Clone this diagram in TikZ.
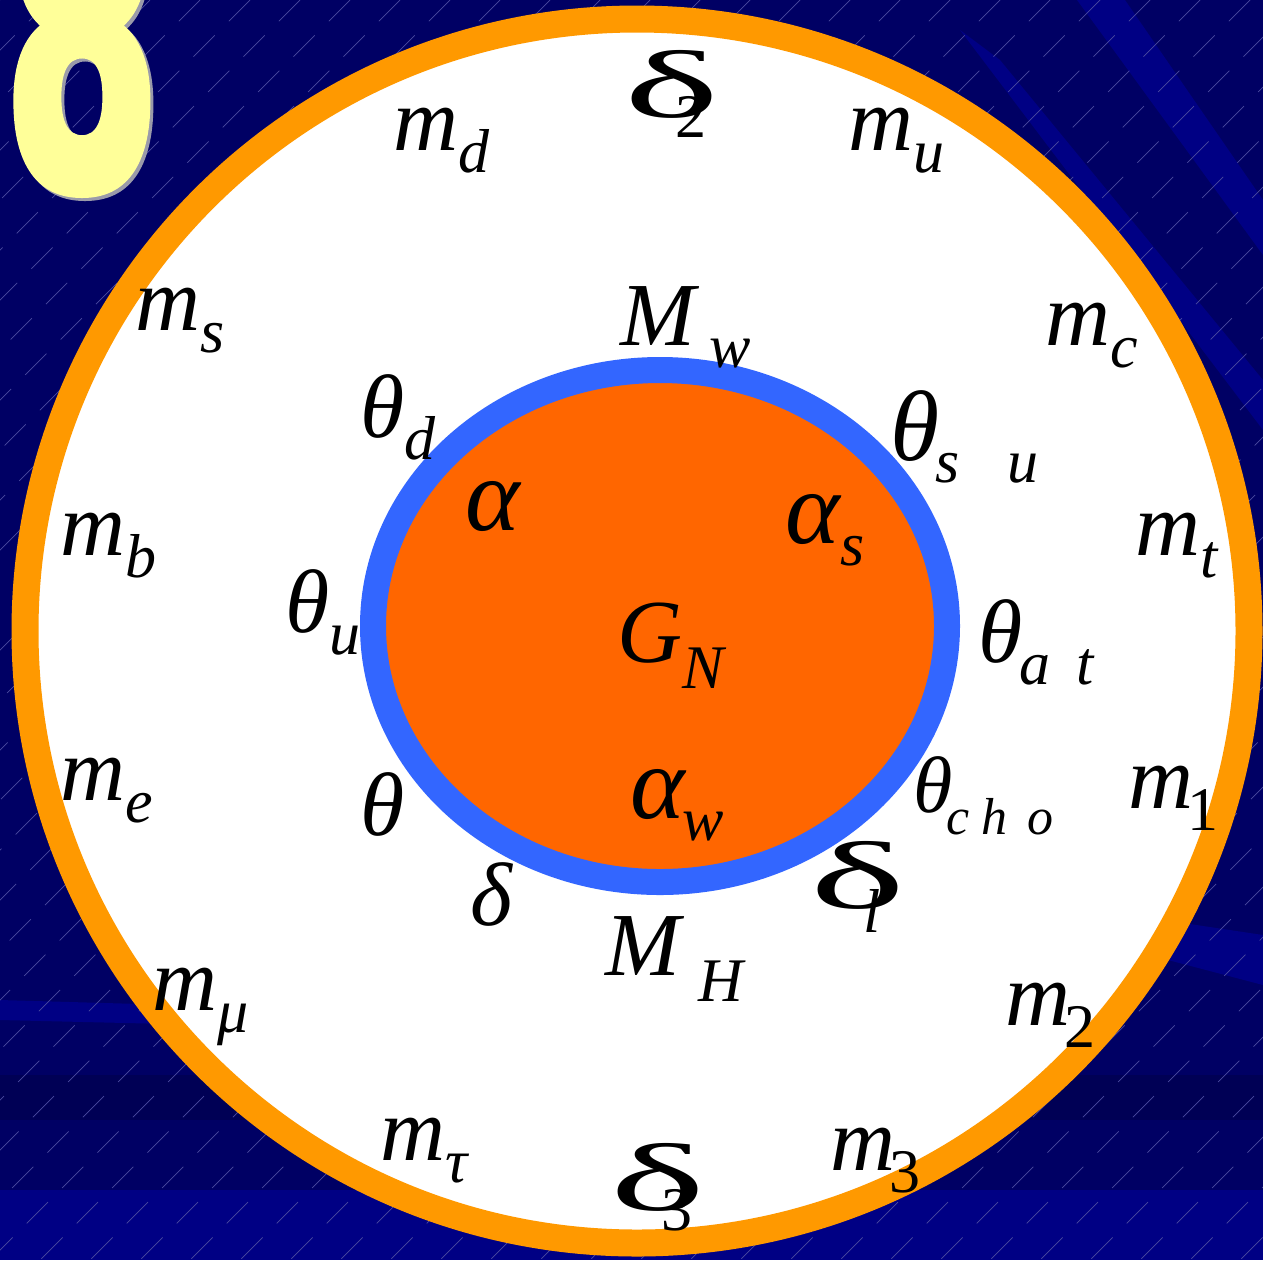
\documentclass[tikz,border=0pt]{standalone}
\usepackage{fontspec}
\setmainfont{Liberation Serif}
\newfontfamily\digitfont{DejaVu Sans}[BoldFeatures={FakeBold=3.5}]
\definecolor{navy}{HTML}{000064}
\definecolor{bandlight}{HTML}{000084}
\definecolor{banddark}{HTML}{000055}
\definecolor{hatch}{HTML}{4A4AA0}
\definecolor{ringorange}{HTML}{FF9900}
\definecolor{ringblue}{HTML}{3366FF}
\definecolor{coreorange}{HTML}{FF6600}
\definecolor{digityellow}{HTML}{FFFF99}
\definecolor{digitshadow}{HTML}{9A9AAA}
% subscript: optional kern, then lowered small text
\newcommand{\sbs}[2][0pt]{\hspace{#1}\raisebox{-11pt}{\fontsize{31}{31}\selectfont #2}}
\newcommand{\bigdelta}{\scalebox{2.1}[1]{\fontsize{48}{48}\selectfont\upshape δ}}
\newcommand{\dsub}[3]{\hspace{#1}\raisebox{#2}{\fontsize{31}{31}\selectfont #3}}
\begin{document}
\begin{tikzpicture}[x=0.5pt,y=-0.5pt,
  lab/.style={anchor=base west,inner sep=0pt,font=\fontsize{45}{45}\selectfont\itshape},
  biglab/.style={lab,font=\fontsize{52}{52}\selectfont\itshape},
  eightglyph/.style={anchor=base,inner sep=0pt,font=\fontsize{205}{205}\selectfont\digitfont\bfseries}]
\useasboundingbox (0,0) rectangle (1263,1260);
\clip (0,0) rectangle (1263,1260);
% background
\fill[navy] (0,0) rectangle (1263,1260);
\fill[bandlight] (1077,0) -- (1125,0) -- (1263,200) -- (1263,255) -- cycle;
\fill[bandlight] (960,30) -- (1000,60) -- (1263,380) -- (1263,430) -- cycle;
\fill[bandlight] (1130,915) -- (1263,935) -- (1263,985) -- (1130,950) -- cycle;
\fill[bandlight] (0,1000) -- (420,1012) -- (420,1030) -- (0,1020) -- cycle;
\fill[banddark] (0,1075) rectangle (1263,1120);
\fill[bandlight] (0,1190) rectangle (1263,1260);
\foreach \c in {0,50,...,2550} \draw[hatch,line width=0.35pt,dash pattern=on 15pt off 10pt] (\c,0) -- (\c-1260,1260);
% the big 8
\node[eightglyph,text=digitshadow] (eightshadow) at (85,188) {\scalebox{0.55}[1]{8}};
\node[eightglyph,text=digityellow] (eight) at (82,185) {\scalebox{0.55}[1]{8}};
% rings
\draw[line width=13.5pt,draw=ringorange,fill=white] (637,631) circle[radius=612];
\draw[line width=13pt,draw=ringblue,fill=coreorange] (660,626) ellipse[x radius=287,y radius=256];
% outer labels
\node[lab] (delta2) at (624,117) {\bigdelta\dsub{-22pt}{-10pt}{\upshape 2}};
\node[lab] (md) at (393,150) {m\sbs{d}};
\node[lab] (mu) at (848,150) {m\sbs{u}};
\node[lab] (ms) at (135,330) {m\sbs{s}};
\node[lab] (mc) at (1045,345) {m\sbs{c}};
\node[lab] (mb) at (60,555) {m\sbs{b}};
\node[lab] (mt) at (1135,555) {m\sbs{t}};
\node[lab] (me) at (60,800) {m\sbs{e}};
\node[lab] (mone) at (1128,808) {m\sbs[-3pt]{\upshape 1}};
\node[lab] (mmu) at (152,1010) {m\sbs{μ}};
\node[lab] (mtwo) at (1005,1025) {m\sbs[-3pt]{\upshape 2}};
\node[lab] (mtau) at (380,1160) {m\sbs{τ}};
\node[lab] (mthree) at (830,1170) {m\sbs[-3pt]{\upshape 3}};
\node[lab] (delta3) at (610,1210) {\bigdelta\dsub{-22pt}{-10pt}{\upshape 3}};
% middle ring labels
\node[lab] (Mw) at (620,345) {M\sbs[7pt]{w}};
\node[lab] (thd) at (360,437) {θ\sbs{d}};
\node[lab,font=\fontsize{50}{50}\selectfont\itshape] (thsu) at (890,460) {θ\sbs[-2pt]{s\hspace{24pt}u}};
\node[lab] (thu) at (285,632) {θ\sbs{u}};
\node[lab] (that) at (978,662) {θ\sbs[-1.5pt]{a\hspace{13pt}t}};
\node[lab] (th) at (360,835) {θ};
\begin{scope}
\clip (900,740) rectangle (1058,860);
\node[lab,font=\fontsize{40}{40}\selectfont\itshape] (thcho) at (913,812) {θ\hspace{-3pt}\raisebox{-11pt}{\fontsize{26}{26}\selectfont c\hspace{6pt}h\hspace{10pt}o\hspace{3pt}o}};
\end{scope}
\node[lab] (deltal) at (810,908) {\bigdelta\dsub{-21pt}{-12pt}{l}};
\node[lab] (dl) at (470,925) {δ};
\node[lab] (MH) at (605,975) {M\sbs[9pt]{\raisebox{-2pt}{H}}};
% core labels
\node[biglab] (al) at (465,530) {α};
\node[biglab] (als) at (785,543) {α\sbs{s}};
\node[lab] (GN) at (617,662) {G\sbs{\raisebox{-2pt}{N}}};
\node[biglab] (alw) at (630,818) {α\sbs[-1pt]{w}};
\end{tikzpicture}
\end{document}
